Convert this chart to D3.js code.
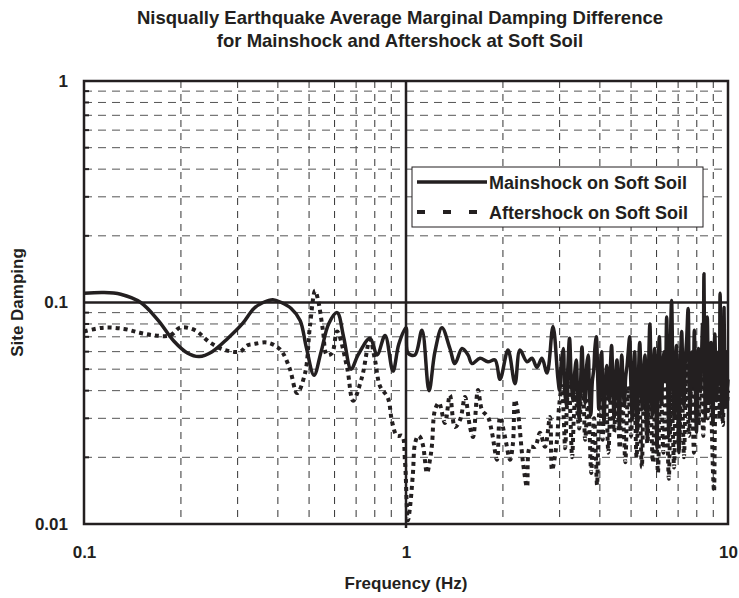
<!DOCTYPE html>
<html lang="en">
<head>
    <meta charset="UTF-8">
    <title>Nisqually damping</title>
    <script src="https://cdn.jsdelivr.net/npm/d3@7"></script>
    <style>
        body{ margin:0; background:#fff; }
        text{ font-family:"Liberation Sans", Arial, sans-serif; font-weight:bold; fill:#231f20; }
    </style>
</head>
<body>
</body>
<script type="text/javascript">

    // mainshock on soft soil: [frequency Hz, damping]
    let mainshock = [
        [0.100,0.110],[0.115,0.111],[0.130,0.109],[0.150,0.100],[0.170,0.083],[0.190,0.067],
        [0.210,0.059],[0.228,0.057],[0.250,0.060],[0.280,0.069],[0.310,0.080],[0.337,0.094],
        [0.360,0.100],[0.386,0.103],[0.410,0.100],[0.440,0.094],[0.469,0.083],[0.490,0.063],
        [0.518,0.047],[0.545,0.060],[0.575,0.080],[0.611,0.090],[0.640,0.070],[0.675,0.050],
        [0.710,0.058],[0.773,0.069],[0.813,0.058],[0.861,0.071],[0.911,0.049],[0.950,0.065],
        [1.000,0.077],[1.015,0.059],[1.066,0.058],[1.121,0.075],[1.179,0.040],[1.230,0.060],
        [1.293,0.077],[1.369,0.062],[1.419,0.053],[1.493,0.062],[1.558,0.058],[1.603,0.053],
        [1.697,0.056],[1.797,0.054],[1.890,0.055],[1.959,0.045],[2.074,0.061],[2.180,0.043],
        [2.259,0.061],[2.376,0.054],[2.462,0.056],[2.551,0.051],[2.644,0.056],[2.741,0.048],
        [2.861,0.078],[2.965,0.045],
        [3.00,0.040],[3.04,0.055],[3.08,0.062],[3.11,0.040],[3.15,0.034],[3.18,0.050],
        [3.22,0.069],[3.26,0.045],[3.30,0.036],[3.34,0.048],[3.38,0.055],[3.41,0.038],
        [3.45,0.030],[3.49,0.046],[3.52,0.063],[3.56,0.042],[3.60,0.035],[3.64,0.052],
        [3.68,0.058],[3.71,0.040],[3.75,0.031],[3.79,0.044],[3.83,0.050],[3.86,0.062],
        [3.90,0.070],[3.94,0.045],[3.97,0.033],[4.01,0.048],[4.05,0.060],[4.08,0.041],
        [4.12,0.029],[4.16,0.043],[4.20,0.052],[4.24,0.040],[4.28,0.036],[4.31,0.050],
        [4.35,0.064],[4.39,0.042],[4.43,0.030],[4.47,0.045],[4.52,0.055],[4.56,0.038],
        [4.60,0.027],[4.64,0.045],[4.68,0.058],[4.72,0.043],[4.77,0.034],[4.81,0.046],
        [4.86,0.052],[4.90,0.060],[4.95,0.070],[4.99,0.044],[5.04,0.030],[5.08,0.046],
        [5.13,0.060],[5.17,0.037],[5.22,0.026],[5.27,0.046],[5.32,0.066],[5.37,0.045],
        [5.42,0.033],[5.47,0.048],[5.52,0.058],[5.57,0.036],[5.62,0.024],[5.67,0.052],
        [5.72,0.080],[5.77,0.045],[5.82,0.031],[5.87,0.050],[5.92,0.062],[5.97,0.035],
        [6.02,0.022],[6.07,0.048],[6.12,0.070],[6.17,0.046],[6.22,0.035],[6.27,0.050],
        [6.33,0.060],[6.39,0.045],[6.45,0.086],[6.50,0.040],[6.55,0.025],[6.61,0.055],
        [6.68,0.102],[6.74,0.048],[6.80,0.030],[6.86,0.052],[6.92,0.064],[6.98,0.035],
        [7.04,0.021],[7.11,0.050],[7.18,0.074],[7.24,0.046],[7.30,0.034],[7.37,0.055],
        [7.44,0.068],[7.52,0.094],[7.57,0.045],[7.62,0.030],[7.68,0.048],[7.75,0.060],
        [7.80,0.042],[7.86,0.075],[7.92,0.040],[7.98,0.026],[8.04,0.045],[8.10,0.062],
        [8.16,0.048],[8.22,0.040],[8.28,0.058],[8.34,0.080],[8.38,0.050],[8.42,0.135],
        [8.46,0.055],[8.50,0.030],[8.56,0.055],[8.62,0.086],[8.68,0.050],[8.74,0.035],
        [8.80,0.052],[8.86,0.066],[8.92,0.040],[8.98,0.028],[9.04,0.050],[9.10,0.072],
        [9.16,0.048],[9.22,0.036],[9.28,0.048],[9.34,0.060],[9.40,0.045],[9.45,0.110],
        [9.50,0.052],[9.55,0.032],[9.60,0.045],[9.65,0.058],[9.69,0.045],[9.72,0.095],
        [9.77,0.050],[9.82,0.034],[9.87,0.048],[9.92,0.060],[9.96,0.040],[10.0,0.045]
    ];

    // aftershock on soft soil: [frequency Hz, damping]
    let aftershock = [
        [0.100,0.074],[0.115,0.077],[0.133,0.076],[0.149,0.073],[0.166,0.071],[0.185,0.071],
        [0.199,0.077],[0.221,0.075],[0.246,0.066],[0.274,0.061],[0.305,0.060],[0.321,0.064],
        [0.337,0.065],[0.370,0.066],[0.398,0.063],[0.415,0.059],[0.436,0.050],[0.459,0.039],
        [0.486,0.048],[0.503,0.078],[0.522,0.113],[0.533,0.103],[0.552,0.075],[0.568,0.058],
        [0.589,0.059],[0.611,0.074],[0.656,0.051],[0.685,0.036],[0.730,0.046],[0.773,0.068],
        [0.801,0.055],[0.830,0.042],[0.879,0.037],[0.905,0.029],[0.938,0.025],[0.972,0.025],
        [0.993,0.019],[1.014,0.0104],[1.029,0.0119],[1.051,0.017],[1.066,0.023],[1.090,0.025],
        [1.106,0.0247],[1.129,0.0227],[1.162,0.017],[1.187,0.0195],[1.204,0.0227],[1.230,0.0327],
        [1.266,0.0352],[1.321,0.0286],[1.369,0.0382],[1.419,0.0274],[1.472,0.0295],[1.525,0.0374],
        [1.580,0.0274],[1.615,0.0247],[1.673,0.0403],[1.722,0.0327],[1.797,0.0304],[1.850,0.0258],
        [1.917,0.0195],[1.959,0.0304],[2.030,0.0247],[2.104,0.0195],[2.149,0.0232],[2.180,0.0363],
        [2.227,0.0317],[2.309,0.0189],[2.376,0.0147],[2.427,0.0223],[2.515,0.0223],[2.607,0.0258],
        [2.702,0.0223],[2.800,0.0304],[2.841,0.0175],[2.944,0.0239],[2.987,0.0337],
        [3.05,0.042],[3.09,0.030],[3.12,0.022],[3.16,0.034],[3.20,0.048],[3.24,0.031],
        [3.28,0.020],[3.32,0.030],[3.36,0.040],[3.40,0.033],[3.45,0.027],[3.49,0.038],
        [3.53,0.050],[3.57,0.033],[3.60,0.024],[3.64,0.030],[3.68,0.036],[3.72,0.025],
        [3.76,0.017],[3.80,0.024],[3.84,0.030],[3.88,0.022],[3.92,0.015],[3.96,0.026],
        [4.00,0.038],[4.04,0.030],[4.08,0.024],[4.12,0.034],[4.17,0.045],[4.21,0.030],
        [4.25,0.021],[4.30,0.031],[4.34,0.040],[4.38,0.032],[4.43,0.026],[4.47,0.036],
        [4.52,0.048],[4.56,0.032],[4.61,0.022],[4.65,0.030],[4.70,0.036],[4.75,0.026],
        [4.80,0.019],[4.85,0.030],[4.90,0.042],[4.95,0.032],[5.00,0.025],[5.05,0.036],
        [5.10,0.050],[5.15,0.031],[5.20,0.020],[5.25,0.030],[5.30,0.040],[5.35,0.027],
        [5.40,0.018],[5.45,0.030],[5.50,0.045],[5.56,0.032],[5.62,0.023],[5.67,0.036],
        [5.72,0.055],[5.78,0.030],[5.84,0.019],[5.90,0.028],[5.95,0.038],[6.00,0.026],
        [6.06,0.017],[6.12,0.030],[6.18,0.048],[6.24,0.031],[6.30,0.021],[6.36,0.034],
        [6.42,0.052],[6.48,0.028],[6.55,0.016],[6.61,0.027],[6.68,0.040],[6.74,0.027],
        [6.80,0.018],[6.86,0.032],[6.92,0.050],[6.98,0.033],[7.05,0.022],[7.11,0.032],
        [7.18,0.044],[7.24,0.030],[7.30,0.020],[7.37,0.036],[7.44,0.058],[7.50,0.036],
        [7.57,0.025],[7.63,0.034],[7.70,0.045],[7.77,0.030],[7.84,0.021],[7.90,0.036],
        [7.97,0.055],[8.03,0.038],[8.10,0.028],[8.17,0.038],[8.24,0.048],[8.31,0.034],
        [8.38,0.025],[8.45,0.040],[8.52,0.060],[8.59,0.042],[8.66,0.030],[8.73,0.045],
        [8.80,0.062],[8.87,0.036],[8.94,0.022],[9.00,0.016],[9.05,0.014],[9.10,0.026],
        [9.15,0.040],[9.22,0.046],[9.28,0.055],[9.34,0.040],[9.40,0.030],[9.46,0.045],
        [9.52,0.065],[9.58,0.040],[9.64,0.028],[9.71,0.040],[9.78,0.052],[9.84,0.040],
        [9.90,0.033],[9.95,0.036],[10.0,0.040]
    ];

    let xTicks = [0.1, 1, 10];
    let yTicks = [0.01, 0.1, 1];
    let seriesNames = ["Mainshock on Soft Soil", "Aftershock on Soft Soil"];

    let width = 739, height = 598;
    let margin = {left: 84, right: 11, top: 81, bottom: 74};
    let w = width - margin.left - margin.right;
    let h = height - margin.top - margin.bottom;
    let ink = "#231f20";

    let svg = d3.select("body").append("svg")
        .attr("width", width)
        .attr("height", height);

    let g = svg.append("g")
        .attr("transform", `translate(${margin.left},${margin.top})`);

    let x = d3.scaleLog().domain([0.1, 10]).range([0, w]);
    let y = d3.scaleLog().domain([0.01, 1]).range([h, 0]);

    // minor values between decades
    let minorX = x.ticks().filter(d => !xTicks.includes(d));
    let minorY = y.ticks().filter(d => !yTicks.includes(d));

    // dashed minor grid
    g.selectAll(".gx").data(minorX).enter().append("line")
        .attr("x1", d => x(d)).attr("x2", d => x(d))
        .attr("y1", 0).attr("y2", h)
        .attr("stroke", "#333").attr("stroke-width", 1)
        .attr("stroke-dasharray", "7,6");
    g.selectAll(".gy").data(minorY).enter().append("line")
        .attr("x1", 0).attr("x2", w)
        .attr("y1", d => y(d)).attr("y2", d => y(d))
        .attr("stroke", "#555").attr("stroke-width", 1)
        .attr("stroke-dasharray", "8,6");

    // major grid lines
    g.append("line")
        .attr("x1", x(1)).attr("x2", x(1)).attr("y1", 0).attr("y2", h + 4)
        .attr("stroke", ink).attr("stroke-width", 2.5);
    g.append("line")
        .attr("x1", 0).attr("x2", w).attr("y1", y(0.1)).attr("y2", y(0.1))
        .attr("stroke", ink).attr("stroke-width", 2.5);

    // small minor ticks on left axis
    g.selectAll(".ty").data(minorY).enter().append("line")
        .attr("x1", 0).attr("x2", 5)
        .attr("y1", d => y(d)).attr("y2", d => y(d))
        .attr("stroke", ink).attr("stroke-width", 2);

    // series
    let line = d3.line()
        .curve(d3.curveCatmullRom.alpha(0.5))
        .x(d => x(d[0]))
        .y(d => y(d[1]));

    g.append("path").datum(aftershock)
        .attr("fill", "none").attr("stroke", ink)
        .attr("stroke-width", 4)
        .attr("stroke-dasharray", "4,4")
        .attr("d", line);

    g.append("path").datum(mainshock)
        .attr("fill", "none").attr("stroke", ink)
        .attr("stroke-width", 3.5)
        .attr("stroke-linejoin", "round")
        .attr("d", line);

    // frame
    g.append("rect")
        .attr("width", w).attr("height", h)
        .attr("fill", "none").attr("stroke", ink).attr("stroke-width", 2.5);

    // axes labels
    let xAxis = d3.axisBottom(x).tickValues(xTicks).tickSize(0).tickPadding(22)
        .tickFormat(d3.format("~g"));
    let xg = g.append("g").attr("transform", `translate(0,${h})`).call(xAxis);
    let yAxis = d3.axisLeft(y).tickValues(yTicks).tickSize(0).tickPadding(16)
        .tickFormat(d3.format("~g"));
    let yg = g.append("g").call(yAxis);
    [xg, yg].forEach(a => {
        a.select(".domain").remove();
        a.selectAll("text").attr("font-size", 17).attr("font-weight", "bold")
            .attr("fill", ink).attr("font-family", "Liberation Sans, Arial, sans-serif");
    });

    // title
    svg.append("text").attr("x", 400).attr("y", 24)
        .attr("text-anchor", "middle").attr("font-size", 18.5)
        .text("Nisqually Earthquake Average Marginal Damping Difference");
    svg.append("text").attr("x", 400).attr("y", 47)
        .attr("text-anchor", "middle").attr("font-size", 18.5)
        .text("for Mainshock and Aftershock at Soft Soil");

    svg.append("text").attr("x", margin.left + w / 2).attr("y", 589)
        .attr("text-anchor", "middle").attr("font-size", 17)
        .text("Frequency (Hz)");
    svg.append("text")
        .attr("transform", `translate(23,${margin.top + h / 2}) rotate(-90)`)
        .attr("text-anchor", "middle").attr("font-size", 17)
        .text("Site Damping");

    // legend
    let lg = svg.append("g").attr("transform", "translate(412,167)");
    lg.append("rect").attr("width", 291).attr("height", 60)
        .attr("fill", "#fff").attr("stroke", ink).attr("stroke-width", 1);
    seriesNames.forEach((name, i) => {
        let yy = 15 + i * 30;
        lg.append("line")
            .attr("x1", 5).attr("x2", 75).attr("y1", yy).attr("y2", yy)
            .attr("stroke", ink)
            .attr("stroke-width", i === 0 ? 3.5 : 4)
            .attr("stroke-dasharray", i === 0 ? null : "8,18");
        lg.append("text").attr("x", 77).attr("y", yy + 7)
            .attr("font-size", 18).text(name);
    });
</script>
</html>
